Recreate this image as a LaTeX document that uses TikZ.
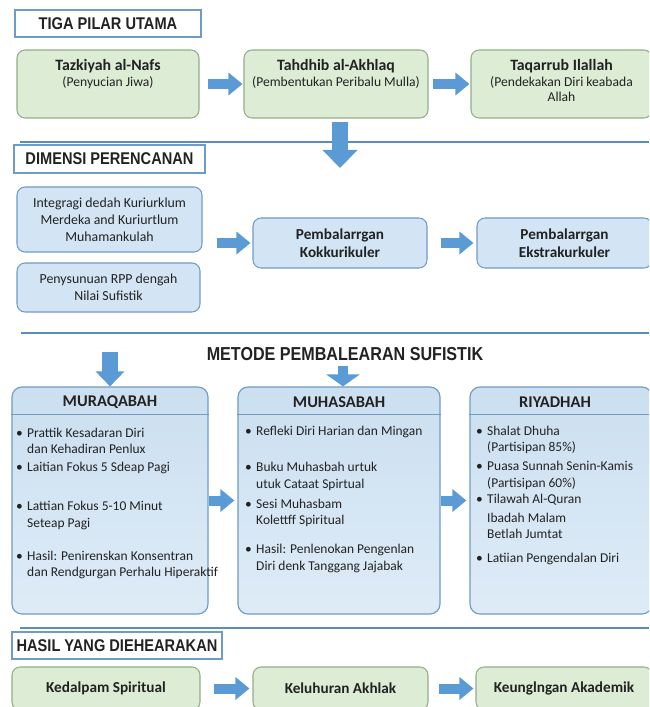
\documentclass[tikz,border=0pt]{standalone}
\usepackage{fontspec}
\setmainfont{Carlito}
\newfontfamily\hdfont{Liberation Sans}[FakeStretch=0.86]
\usetikzlibrary{arrows.meta}

\definecolor{grnfill}{HTML}{DDECD5}
\definecolor{grnline}{HTML}{93AE88}
\definecolor{blufill}{HTML}{D3E5F4}
\definecolor{bluline}{HTML}{6F9CC4}
\definecolor{arrblue}{HTML}{5B9BD5}
\definecolor{sepline}{HTML}{5B8DB8}
\definecolor{txt}{HTML}{222222}

\newcommand{\bul}{\makebox[0.33cm][l]{\textbullet}}
\newcommand{\ind}{\hspace*{0.33cm}}

\begin{document}
\begin{tikzpicture}[x=0.03cm, y=-0.03cm, text=txt,
  hdr/.style={draw=bluline, line width=1.2pt, fill=white, inner sep=0pt, font=\hdfont\bfseries\fontsize{14.5}{16}\selectfont},
  pilar/.style={draw=grnline, line width=0.9pt, fill=grnfill, rounded corners=0.24cm, inner sep=0pt, align=center, font=\fontsize{13.5}{15}\selectfont},
  plan/.style={draw=bluline, line width=0.9pt, fill=blufill, rounded corners=0.24cm, inner sep=0pt, align=center, font=\fontsize{11.8}{14.5}\selectfont},
  metode/.style={draw=bluline, line width=1pt, top color=blufill!92!bluline, bottom color=blufill!75!white, rounded corners=0.3cm, inner sep=0pt},
  items/.style={anchor=north west, inner sep=0pt, align=left, font=\fontsize{11.5}{14}\selectfont},
  fat/.style={-{Triangle[length=0.42cm,width=0.66cm]}, line width=0.3cm, draw=arrblue},
  sep/.style={draw=sepline, line width=1.7pt}
]
\useasboundingbox (0,0) rectangle (649,707);
\clip (0,0) rectangle (649,707);

\node[hdr, minimum width=5.58cm, minimum height=0.81cm] (h1) at (108,23.5) {TIGA PILAR UTAMA};
\node[pilar, minimum width=5.46cm, minimum height=2.04cm] (tz) at (108,84) {\parbox[t][1.45cm][t]{5.3cm}{\centering\textbf{Tazkiyah al-Nafs}\\\fontsize{11.6}{13}\selectfont(Penyucian Jiwa)}};
\node[pilar, minimum width=5.52cm, minimum height=2.04cm] (th) at (336,84) {\parbox[t][1.45cm][t]{5.4cm}{\centering\textbf{Tahdhib al-Akhlaq}\\\fontsize{11.6}{13}\selectfont(Pembentukan Peribalu Mulla)}};
\node[pilar, minimum width=5.43cm, minimum height=2.04cm] (tq) at (561.5,84) {\parbox[t][1.45cm][t]{5.3cm}{\centering\textbf{Taqarrub Ilallah}\\\fontsize{11.6}{13}\selectfont(Pendekakan Diri keabada\\Allah}};
\coordinate (d0) at (340,168);

\draw[sep] (20,142) -- (649,142);
\node[hdr, minimum width=5.73cm, minimum height=0.84cm] (h2) at (109.5,159) {DIMENSI PERENCANAN};
\node[plan, minimum width=5.55cm, minimum height=1.95cm] (ia) at (109.5,219.5) {Integragi dedah Kuriurklum\\Merdeka and Kuriurtlum\\Muhamankulah};
\node[plan, minimum width=5.49cm, minimum height=1.47cm] (nr) at (108.5,287.5) {Penysunuan RPP dengah\\Nilai Sufistik};
\node[plan, minimum width=5.22cm, minimum height=1.5cm, font=\bfseries\fontsize{13}{15.5}\selectfont] (kk) at (340,243) {Pembalarrgan\\Kokkurikuler};
\node[plan, minimum width=5.25cm, minimum height=1.5cm, font=\bfseries\fontsize{13}{15.5}\selectfont] (ek) at (564.5,243) {Pembalarrgan\\Ekstrakurkuler};

\draw[sep] (21,333) -- (649,333);
\node[font=\hdfont\bfseries\fontsize{16}{18}\selectfont] (mt) at (345,354) {METODE PEMBALEARAN SUFISTIK};
\coordinate (d1) at (110,352);
\coordinate (d2) at (343,366);

\node[metode, minimum width=5.88cm, minimum height=6.81cm] (mq) at (110,500.5) {};
\node[metode, minimum width=6.06cm, minimum height=6.81cm] (mh) at (339,500.5) {};
\node[metode, minimum width=5.46cm, minimum height=6.81cm] (rd) at (561,500.5) {};
\foreach \b in {mq, mh, rd}
  \draw[bluline, line width=1pt] ([yshift=-0.84cm]\b.north west) -- ([yshift=-0.84cm]\b.north east);
\node[font=\bfseries\fontsize{14}{16}\selectfont] (mqh) at (110,402) {MURAQABAH};
\node[font=\bfseries\fontsize{14}{16}\selectfont] (mhh) at (339,402) {MUHASABAH};
\node[font=\bfseries\fontsize{14}{16}\selectfont] (rdh) at (555,402) {RIYADHAH};

\node[items] (mqi) at (16,428) {\bul Prattik Kesadaran Diri\\
  \ind dan Kehadiran Penlux\\[1pt]
  \bul Laitian Fokus 5 Sdeap Pagi\\[19.5pt]
  \bul Lattian Fokus 5-10 Minut\\
  \ind Seteap Pagi\\[14pt]
  \bul Hasil: Penirenskan Konsentran\\
  \ind dan Rendgurgan Perhalu Hiperaktif};
\node[items] (mhi) at (245,426) {\bul Refleki Diri Harian dan Mingan\\[17pt]
  \bul Buku Muhasbah urtuk\\
  \ind utuk Cataat Spirtual\\[3pt]
  \bul Sesi Muhasbam\\
  \ind Kolettff Spiritual\\[11pt]
  \bul Hasil: Penlenokan Pengenlan\\
  \ind Diri denk Tanggang Jajabak};
\node[items] (rdi) at (476,426) {\bul Shalat Dhuha\\
  \ind (Partisipan 85\%)\\[2pt]
  \bul Puasa Sunnah Senin-Kamis\\
  \ind (Partisipan 60\%)\\
  \bul Tilawah Al-Quran\\[2pt]
  \ind Ibadah Malam\\
  \ind Betlah Jumtat\\[6pt]
  \bul Latiian Pengendalan Diri};

\draw[sep] (20,628) -- (649,628);
\node[hdr, minimum width=6.3cm, minimum height=0.81cm] (h3) at (117,645.5) {HASIL YANG DIEHEARAKAN};
\node[pilar, minimum width=5.64cm, minimum height=1.29cm, font=\bfseries\fontsize{13}{15}\selectfont] (ks) at (106,688.5) {Kedalpam Spiritual};
\node[pilar, minimum width=5.25cm, minimum height=1.29cm, font=\bfseries\fontsize{13}{15}\selectfont] (kl) at (340.5,688.5) {Keluhuran Akhlak};
\node[pilar, minimum width=5.28cm, minimum height=1.29cm, font=\bfseries\fontsize{13}{15}\selectfont] (ka) at (564,688.5) {Keunglngan Akademik};

%connections
\draw[fat, shorten <=0.24cm, shorten >=0.03cm] (tz) to (th);
\draw[fat, shorten <=0.12cm, shorten >=0.03cm] (th) to (tq);
\draw[fat, line width=0.48cm, -{Triangle[length=0.54cm,width=1.02cm]}, shorten <=0.09cm] (th.south -| d0) to (d0);
\draw[fat, shorten <=0.42cm, shorten >=0.06cm] (kk.west -| ia.east) to (kk);
\draw[fat, shorten <=0.39cm, shorten >=0.09cm] (kk) to (ek);
\draw[fat, line width=0.48cm, -{Triangle[length=0.45cm,width=0.84cm]}] (d1) to (mq);
\draw[fat, -{Triangle[length=0.36cm,width=0.99cm]}] (d2) to (d2 |- mh.north);
\draw[fat, shorten >=0.09cm] (mq) to (mh);
\draw[fat, shorten >=0.09cm] (mh) to (rd);
\draw[fat, shorten <=0.39cm, shorten >=0.09cm] (ks) to (kl);
\draw[fat, shorten <=0.3cm, shorten >=0.06cm] (kl) to (ka);
\end{tikzpicture}
\end{document}
